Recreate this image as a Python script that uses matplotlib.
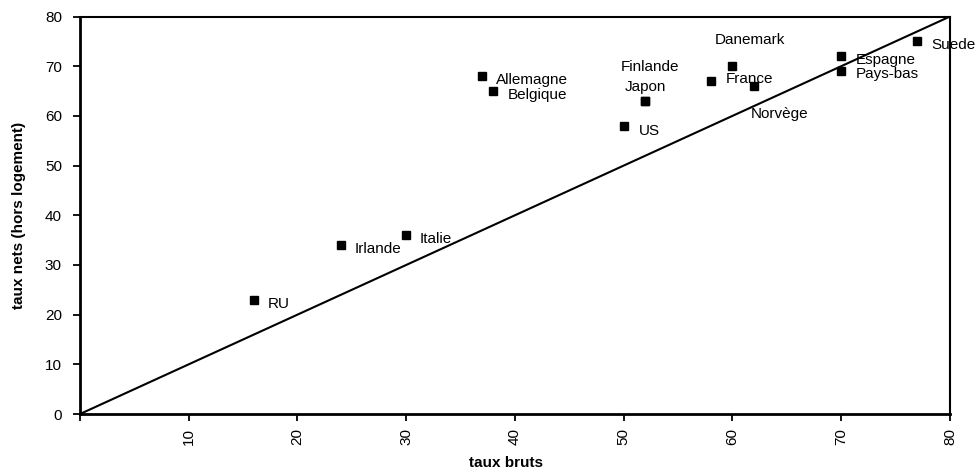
import matplotlib
matplotlib.use('Agg')
import matplotlib.pyplot as plt

# ---- data ----
countries = ['RU', 'Irlande', 'Italie', 'Allemagne', 'Belgique', 'US', 'Finlande',
             'Japon', 'France', 'Danemark', 'Norvège', 'Espagne', 'Pays-bas', 'Suede']
taux_bruts = [16, 24, 30, 37, 38, 50, 52, 52, 58, 60, 62, 70, 70, 77]
taux_nets = [23, 34, 36, 68, 65, 58, 63, 63, 67, 70, 66, 72, 69, 75]
x_ticks = [10, 20, 30, 40, 50, 60, 70, 80]
y_ticks = [0, 10, 20, 30, 40, 50, 60, 70, 80]
diag = [0, 80]

# label placement (pixel offsets: dx right, dy up; horizontal alignment)
label_style = {
    'RU': (14, -2.3, 'left'), 'Irlande': (14, -2.6, 'left'), 'Italie': (13.4, -2.4, 'left'),
    'Allemagne': (13.3, -2.3, 'left'), 'Belgique': (14.4, -2.0, 'left'), 'US': (15.3, -3.3, 'left'),
    'Finlande': (4.3, 35.6, 'center'), 'Japon': (0.3, 15.3, 'center'), 'France': (15, 4, 'left'),
    'Danemark': (17.2, 27.7, 'center'), 'Norvège': (25, -26, 'center'), 'Espagne': (14.8, -2.3, 'left'),
    'Pays-bas': (14.8, -1.6, 'left'), 'Suede': (14.1, -2.6, 'left'),
}
label_shift = -1.5  # small vertical correction (px) for text box centering

plt.rcParams['font.family'] = ['Liberation Sans', 'DejaVu Sans']

fig = plt.figure(figsize=(9.79, 4.72), dpi=100)
ax = fig.add_axes([80/979, 1-414/472, 870/979, 397.5/472])

ax.plot(diag, diag, color='black', lw=1.5, zorder=2)
ax.plot(taux_bruts, taux_nets, linestyle='none', marker='s', markersize=5.5,
        color='black', zorder=3)

px2pt = 72/100
for c, x, y in zip(countries, taux_bruts, taux_nets):
    dx, dy, ha = label_style[c]
    ax.annotate(c, (x, y), xytext=(dx*px2pt, (dy + label_shift)*px2pt),
                textcoords='offset points', ha=ha, va='center', fontsize=11, color='black')

ax.set_xlim(0, 80)
ax.set_ylim(0, 80)
ax.set_xticks([0] + x_ticks)
ax.set_xticklabels([''] + [str(t) for t in x_ticks], rotation=90)
ax.set_yticks(y_ticks)
ax.set_yticklabels([str(t) for t in y_ticks])
ax.tick_params(axis='both', direction='out', length=5, width=1.3, colors='black',
               labelsize=11)
ax.tick_params(axis='y', pad=8)
ax.tick_params(axis='x', pad=5)
for s in ax.spines.values():
    s.set_linewidth(1.5)
    s.set_color('black')
ax.spines['left'].set_linewidth(2)
ax.spines['bottom'].set_linewidth(2)

ax.set_xlabel('taux bruts', fontsize=11, fontweight='bold')
ax.set_ylabel('taux nets (hors logement)', fontsize=11, fontweight='bold')
ax.xaxis.set_label_coords(0.49, -0.105)
ax.yaxis.set_label_coords(-0.062, 0.5)

fig.savefig('out.png', dpi=100)
